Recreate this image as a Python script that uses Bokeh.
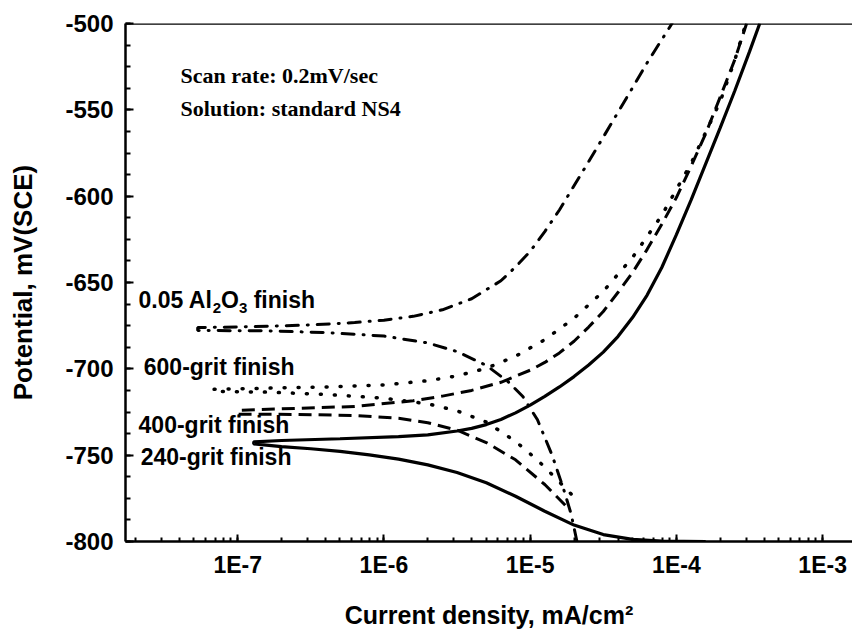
from bokeh.plotting import figure
from bokeh.models import Range1d, SingleIntervalTicker, CustomJSTickFormatter, Span, Label
from bokeh.embed import file_html
from bokeh.resources import INLINE

# Polarization curves: current density (mA/cm^2) and potential (mV vs SCE).
# Each series runs along the cathodic branch towards Ecorr, then up the anodic branch.
grit240_current = [1.585e-4, 7.943e-5, 5.012e-5, 3.162e-5, 1.995e-5, 1.259e-5, 7.943e-6, 5.012e-6,
                   3.162e-6, 1.995e-6, 1.259e-6, 7.943e-7, 5.012e-7, 3.162e-7, 1.995e-7, 1.288e-7,
                   1.288e-7, 1.995e-7, 5.012e-7, 1.259e-6, 1.995e-6, 3.162e-6, 3.981e-6, 5.012e-6,
                   6.31e-6, 7.943e-6, 1.0e-5, 1.259e-5, 1.585e-5, 1.995e-5, 2.512e-5, 3.162e-5,
                   3.981e-5, 5.012e-5, 6.31e-5, 7.943e-5, 1.0e-4, 1.259e-4, 1.585e-4, 1.995e-4,
                   2.512e-4, 3.162e-4, 3.715e-4]
grit240_potential = [-800.0, -799.7, -798.8, -796.0, -790.5, -782.5, -773.8, -766.0,
                     -760.0, -755.6, -752.3, -749.8, -747.8, -746.3, -745.0, -743.5,
                     -742.3, -741.5, -740.5, -739.3, -738.2, -736.0, -734.5, -732.3,
                     -729.3, -725.5, -721.0, -716.0, -710.5, -704.5, -697.8, -690.3,
                     -681.3, -670.3, -657.3, -641.3, -622.3, -602.3, -581.3, -560.3,
                     -538.8, -516.3, -500.0]

grit400_current = [1.738e-5, 1.259e-5, 7.943e-6, 5.012e-6, 3.162e-6, 1.995e-6, 1.259e-6, 6.31e-7,
                   2.512e-7, 1.016e-7, 1.016e-7, 2.512e-7, 6.31e-7, 1.585e-6, 2.512e-6, 3.981e-6,
                   6.31e-6, 1.0e-5, 1.259e-5, 1.585e-5, 1.995e-5, 2.512e-5, 3.162e-5, 3.981e-5,
                   5.012e-5, 6.31e-5, 7.943e-5, 1.0e-4, 1.259e-4, 1.585e-4, 1.995e-4, 2.512e-4,
                   3.02e-4]
grit400_potential = [-779.0, -767.0, -752.7, -742.7, -735.5, -731.2, -728.6, -727.0,
                     -726.4, -726.3, -724.0, -722.9, -721.8, -718.5, -715.8, -712.5,
                     -707.8, -700.8, -696.3, -690.8, -684.0, -675.8, -666.8, -655.8,
                     -644.3, -630.8, -616.3, -600.8, -582.8, -563.8, -542.5, -520.8,
                     -500.0]

grit600_current = [1.905e-5, 1.585e-5, 1.122e-5, 7.943e-6, 5.012e-6, 3.162e-6, 1.995e-6, 1.0e-6,
                   3.981e-7, 1.585e-7, 6.75e-8, 6.75e-8, 1.585e-7, 3.981e-7, 1.0e-6, 1.995e-6,
                   3.162e-6, 5.012e-6, 7.943e-6, 1.259e-5, 1.995e-5, 3.162e-5, 5.012e-5, 7.943e-5,
                   1.259e-4, 1.995e-4, 2.512e-4, 2.985e-4]
grit600_potential = [-772.5, -765.5, -752.8, -742.0, -730.8, -724.3, -720.3, -717.0,
                     -714.8, -713.5, -713.0, -711.9, -711.2, -710.5, -709.3, -706.9,
                     -704.1, -699.7, -692.7, -683.1, -670.7, -655.1, -635.5, -611.1,
                     -581.1, -545.1, -521.0, -500.0]

alumina_current = [2.089e-5, 1.905e-5, 1.698e-5, 1.413e-5, 1.122e-5, 8.913e-6, 7.079e-6, 5.012e-6,
                   3.162e-6, 1.995e-6, 1.0e-6, 3.981e-7, 1.585e-7, 5.33e-8, 5.33e-8, 1.259e-7,
                   3.162e-7, 6.31e-7, 1.0e-6, 1.585e-6, 2.512e-6, 3.981e-6, 6.31e-6, 7.943e-6,
                   1.0e-5, 1.259e-5, 1.585e-5, 1.995e-5, 2.512e-5, 3.162e-5, 3.981e-5, 5.012e-5,
                   6.31e-5, 9.33e-5]
alumina_potential = [-800.0, -784.0, -770.0, -750.0, -729.5, -716.0, -707.5, -698.0,
                     -690.0, -685.0, -681.0, -679.0, -678.0, -677.8, -676.1, -675.6,
                     -674.6, -673.2, -671.8, -669.6, -665.8, -659.4, -649.0, -641.0,
                     -632.0, -620.5, -608.0, -594.0, -580.0, -565.8, -551.5, -537.2,
                     -522.7, -500.0]

x_limits = (1.71e-8, 1.6e-3)
y_limits = (-800, -500)

SANS = "Liberation Sans"
SERIF = "Liberation Serif"

p = figure(width=852, height=635, x_axis_type="log",
           x_range=Range1d(*x_limits), y_range=Range1d(*y_limits),
           output_backend="svg", toolbar_location=None,
           min_border_left=125, min_border_right=0, min_border_top=23, min_border_bottom=94)
p.background_fill_color = "white"
p.border_fill_color = "white"
p.outline_line_color = None
p.xgrid.visible = False
p.ygrid.visible = False

# frame top edge
p.add_layout(Span(location=y_limits[1], dimension="width", line_color="black", line_width=2.5))

# axes
for ax in (p.xaxis[0], p.yaxis[0]):
    ax.axis_line_width = 2.5
    ax.axis_line_color = "black"
    ax.major_tick_line_width = 2
    ax.minor_tick_line_width = 2
    ax.major_tick_out = 0
    ax.minor_tick_out = 0
    ax.major_label_text_font = SANS
    ax.major_label_text_font_style = "bold"
    ax.major_label_text_color = "black"
    ax.axis_label_text_font = SANS
    ax.axis_label_text_font_style = "bold"
    ax.axis_label_text_color = "black"

p.xaxis.major_tick_in = 7
p.xaxis.minor_tick_in = 4
p.xaxis.formatter = CustomJSTickFormatter(code="return '1E' + Math.round(Math.log10(tick));")
p.xaxis.major_label_text_font_size = "23px"
p.xaxis.major_label_standoff = 10
p.xaxis.axis_label = "Current density, mA/cm²"
p.xaxis.axis_label_text_font_size = "25px"
p.xaxis.axis_label_standoff = 20

p.yaxis.ticker = SingleIntervalTicker(interval=50, num_minor_ticks=4)
p.yaxis.formatter = CustomJSTickFormatter(code="return tick.toFixed(0);")
p.yaxis.major_tick_in = 8
p.yaxis.minor_tick_in = 5
p.yaxis.major_label_text_font_size = "24px"
p.yaxis.major_label_standoff = 12
p.yaxis.axis_label = "Potential, mV(SCE)"
p.yaxis.axis_label_text_font_size = "26px"
p.yaxis.axis_label_standoff = 24

# curves
p.line(grit240_current, grit240_potential, line_color="black", line_width=3.2)
p.line(grit400_current, grit400_potential, line_color="black", line_width=3,
       line_dash="13 7")
p.line(grit600_current, grit600_potential, line_color="black", line_width=3.5,
       line_dash="1 13", line_cap="round")
p.line(alumina_current, alumina_potential, line_color="black", line_width=3,
       line_dash="12 9 1 9", line_cap="round")

# notes
for ytxt, txt in ((-530.2, "Scan rate: 0.2mV/sec"), (-549.3, "Solution: standard NS4")):
    p.add_layout(Label(x=4.07e-8, y=ytxt, text=txt, text_font=SERIF, text_font_size="22px",
                       text_font_style="bold", text_align="left", text_baseline="middle",
                       text_color="black"))

# curve labels
def put(x, y, txt, size="23px", dx=0, dy=0):
    p.add_layout(Label(x=x, y=y, text=txt, text_font=SANS, text_font_size=size,
                       text_font_style="bold", text_align="left", text_baseline="middle",
                       text_color="black", x_offset=dx, y_offset=dy))

put(2.10e-8, -660.4, "0.05 Al")
put(2.10e-8, -660.4, "2", size="15px", dx=74.2, dy=-8)
put(2.10e-8, -660.4, "O", dx=82.5)
put(2.10e-8, -660.4, "3", size="15px", dx=100.4, dy=-8)
put(2.10e-8, -660.4, "finish", dx=115.1)
put(2.28e-8, -699.1, "600-grit finish")
put(2.10e-8, -732.7, "400-grit finish")
put(2.17e-8, -751.2, "240-grit finish")

open("out.html", "w").write(file_html(p, INLINE))
